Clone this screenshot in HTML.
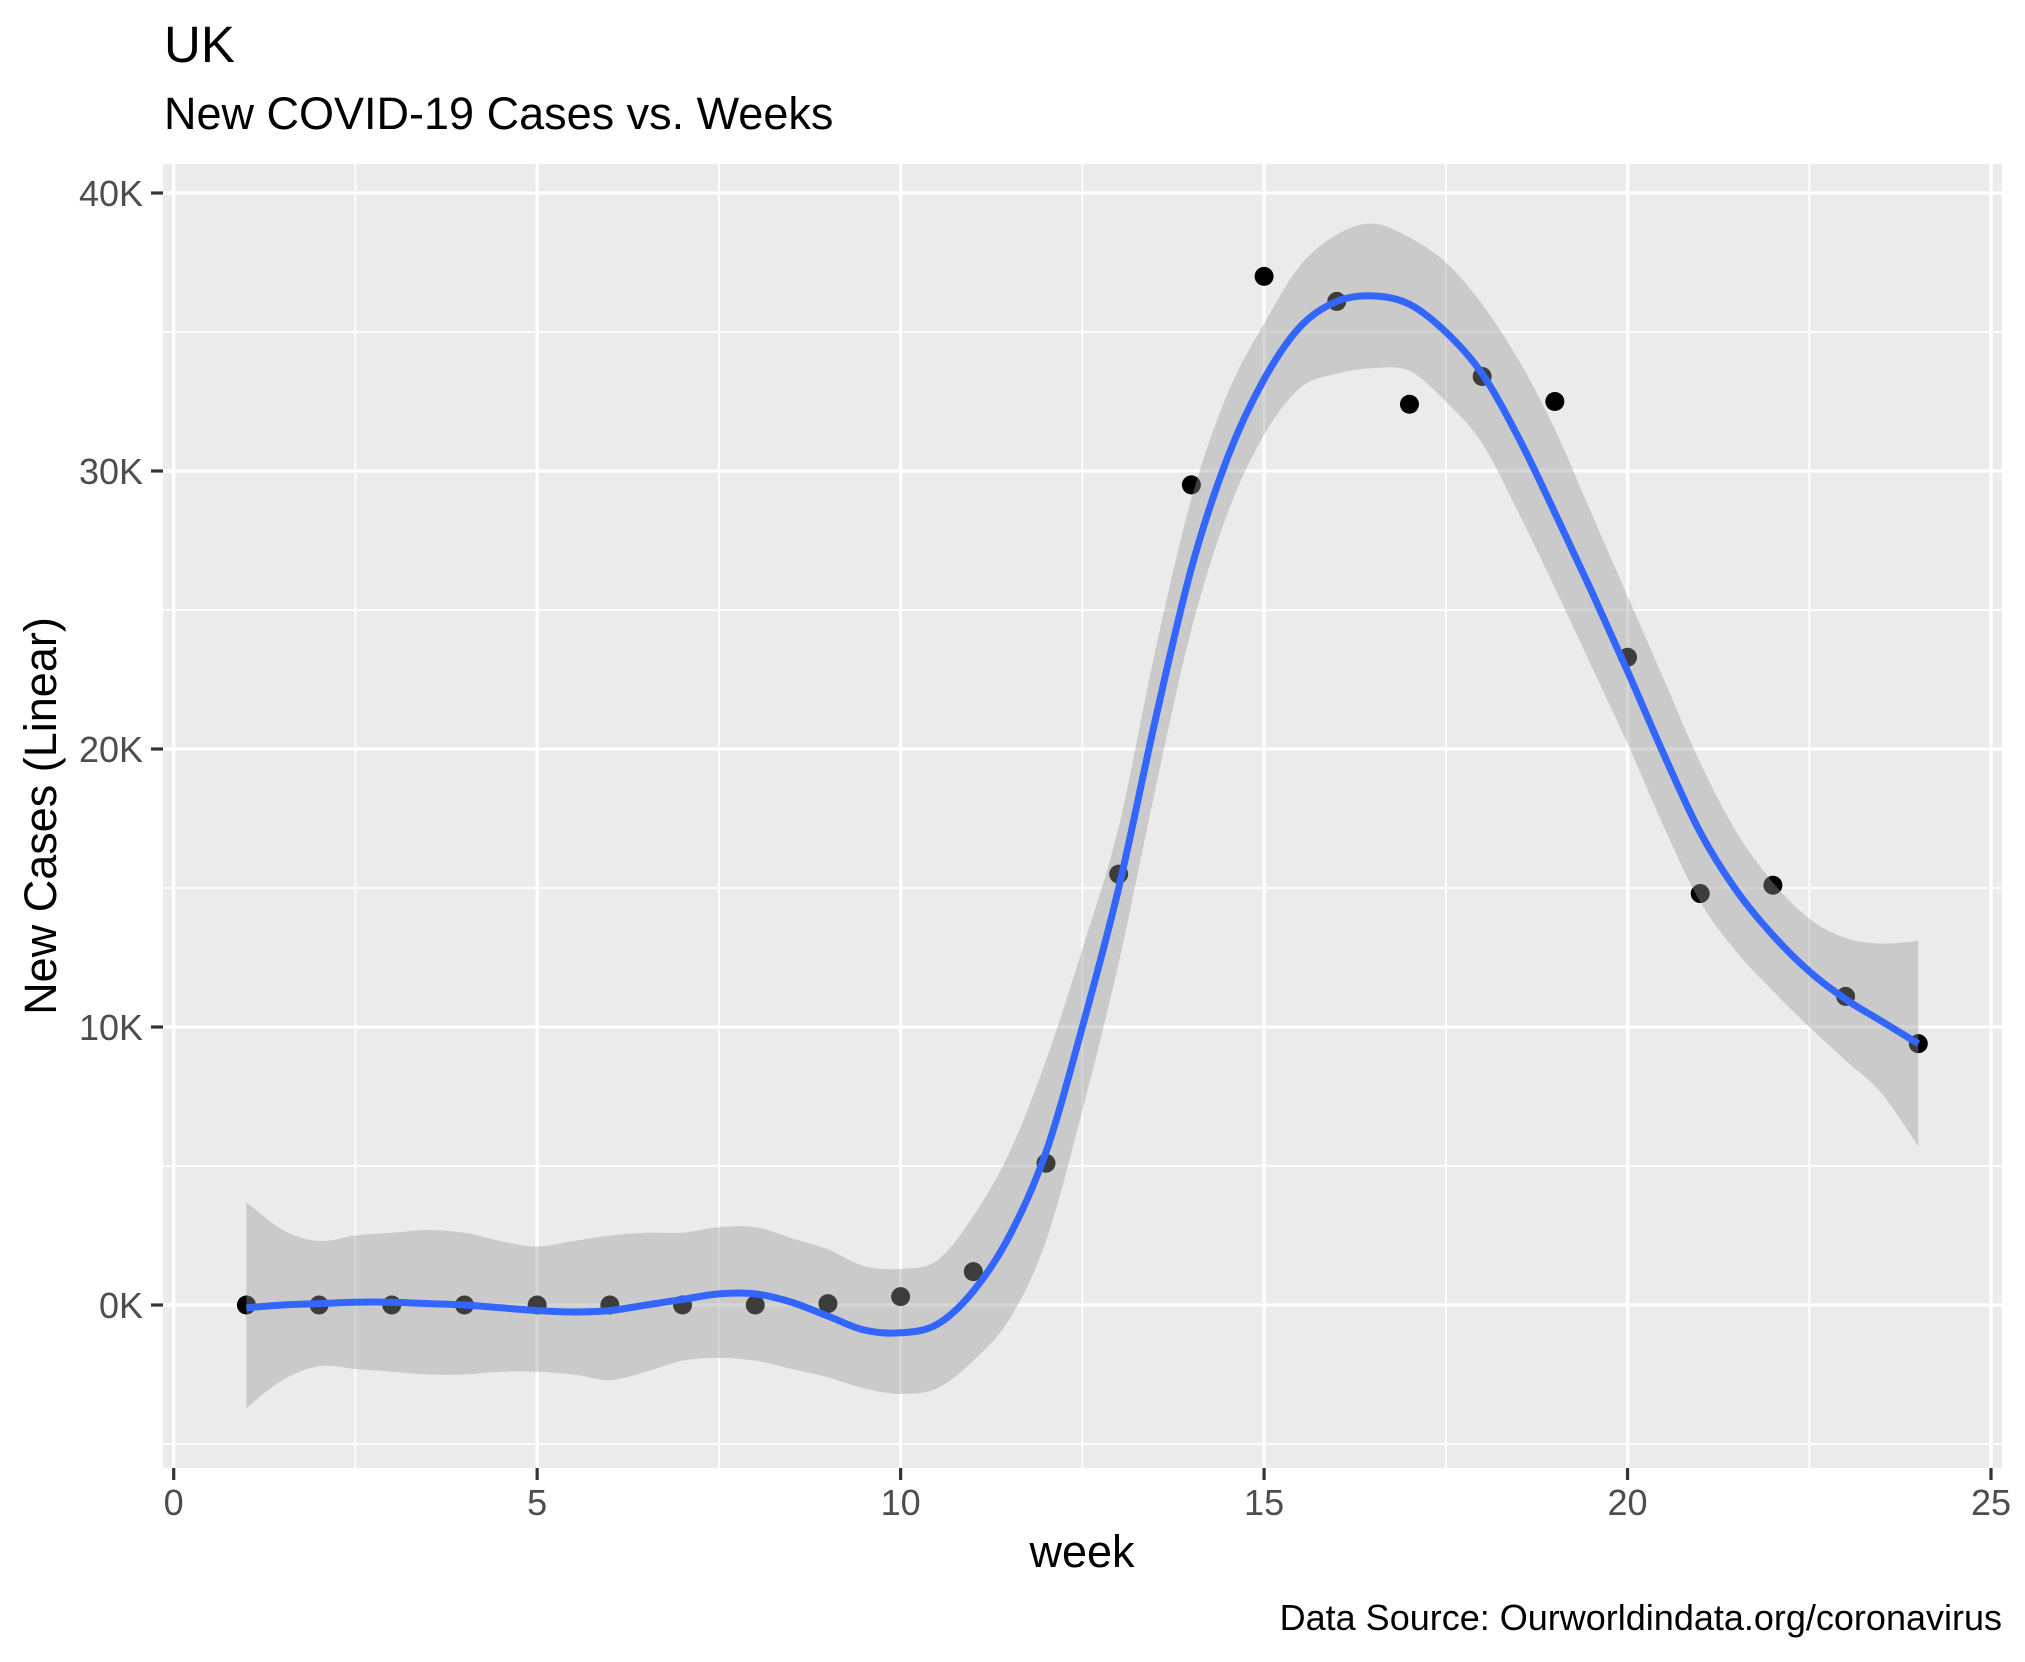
<!DOCTYPE html>
<html><head><meta charset="utf-8"><style>
html,body{margin:0;padding:0;background:#fff}
svg{display:block;font-family:"Liberation Sans",Arial,sans-serif}
</style></head><body>
<svg id="chart" width="2025" height="1662" viewBox="0 0 2025 1662" xmlns="http://www.w3.org/2000/svg">
<rect x="0" y="0" width="2025" height="1662" fill="#fff"/>
<text x="164" y="62" font-size="51" fill="#000">UK</text>
<text x="164" y="129" font-size="45" fill="#000">New COVID-19 Cases vs. Weeks</text>
<rect x="163" y="164" width="1839" height="1304" fill="#EBEBEB"/>
<g id="grid"></g>
<g id="points"></g>
<path id="band" fill="#999999" fill-opacity="0.4"/>
<path id="smooth" fill="none" stroke="#3366FF" stroke-width="7" stroke-linejoin="round"/>
<g id="axes"></g>
<text x="1082" y="1567" font-size="45" text-anchor="middle" fill="#000">week</text>
<text transform="translate(56,816) rotate(-90)" font-size="45" text-anchor="middle" fill="#000">New Cases (Linear)</text>
<text x="2002" y="1630" font-size="36" text-anchor="end" fill="#000">Data Source: Ourworldindata.org/coronavirus</text>
</svg>
<script>
const weeks = [1,2,3,4,5,6,7,8,9,10,11,12,13,14,15,16,17,18,19,20,21,22,23,24];
const cases = [0,0,0,0,0,0,0,0,0.05,0.3,1.2,5.1,15.5,29.5,37.0,36.1,32.4,33.4,32.5,23.3,14.8,15.1,11.1,9.4];
const smoothStart = 1;
const smoothStep = 0.5;
const smoothY = [-0.1,0.0,0.05,0.1,0.1,0.05,0.0,-0.1,-0.2,-0.25,-0.2,0.0,0.2,0.4,0.4,0.1,-0.4,-0.9,-1.0,-0.7,0.5,2.5,5.5,10,15,21,26.5,30.5,33.3,35.2,36.1,36.3,36.0,35.0,33.5,31.2,28.5,25.7,22.8,19.8,17.0,14.9,13.3,12.0,11.0,10.2,9.4];
const bandHi = [3.7,2.7,2.3,2.5,2.6,2.7,2.6,2.3,2.1,2.3,2.5,2.6,2.6,2.8,2.8,2.4,2.0,1.4,1.3,1.6,3.2,5.5,8.8,12.8,17.2,23.5,29.0,32.8,35.3,37.4,38.5,38.9,38.4,37.5,36.0,34.0,31.5,28.5,25.5,22.5,19.5,17.0,15.2,13.9,13.2,13.0,13.1];
const bandLo = [-3.7,-2.7,-2.2,-2.3,-2.4,-2.5,-2.5,-2.4,-2.4,-2.5,-2.7,-2.4,-2.0,-1.9,-2.0,-2.3,-2.6,-3.0,-3.2,-3.0,-2.0,-0.5,2.3,7.0,12.3,18.5,24.3,28.5,31.3,33.0,33.5,33.7,33.6,32.5,31.0,28.5,25.8,23.0,20.2,17.2,14.5,12.7,11.3,10.0,8.8,7.6,5.7];
const xTicks = [0,5,10,15,20,25];
const xMinor = [2.5,7.5,12.5,17.5,22.5];
const yTicks = [0,10,20,30,40];
const yTickLabels = ["0K","10K","20K","30K","40K"];
const yMinor = [-5,5,15,25,35];

const NS = "http://www.w3.org/2000/svg";
const X = w => 173.7 + (w - 0) * (1991 - 173.7) / 25;
const Y = k => 1305 - k * 27.8;
const PL = 163, PR = 2002, PT = 164, PB = 1468;

function mk(tag, attrs, parent) {
  const e = document.createElementNS(NS, tag);
  for (const k in attrs) e.setAttribute(k, attrs[k]);
  parent.appendChild(e);
  return e;
}
const grid = document.getElementById('grid');
const axes = document.getElementById('axes');
xMinor.forEach(v => {
  const l = mk('line', {x1: X(v), x2: X(v), y1: PT, y2: PB, stroke: '#fff', 'stroke-width': 1.7}, grid);
  
  
});
yMinor.forEach(v => {
  const l = mk('line', {x1: PL, x2: PR, y1: Y(v), y2: Y(v), stroke: '#fff', 'stroke-width': 1.7}, grid);
  
  
});
xTicks.forEach(v => {
  const l = mk('line', {x1: X(v), x2: X(v), y1: PT, y2: PB, stroke: '#fff', 'stroke-width': 3.2}, grid);
  
  
  const t = mk('line', {x1: X(v), x2: X(v), y1: PB, y2: PB + 12, stroke: '#333', 'stroke-width': 3.2}, axes);
  
  
  const tx = mk('text', {x: X(v), y: 1515, 'font-size': 36, 'text-anchor': 'middle', fill: '#4D4D4D'}, axes);
  tx.textContent = String(v);
  
  
});
yTicks.forEach((v, i) => {
  const l = mk('line', {x1: PL, x2: PR, y1: Y(v), y2: Y(v), stroke: '#fff', 'stroke-width': 3.2}, grid);
  
  
  const t = mk('line', {x1: PL - 12, x2: PL, y1: Y(v), y2: Y(v), stroke: '#333', 'stroke-width': 3.2}, axes);
  
  
  const tx = mk('text', {x: 143, y: Y(v) + 13, 'font-size': 36, 'text-anchor': 'end', fill: '#4D4D4D'}, axes);
  tx.textContent = yTickLabels[i];
  
  
});
const pts = document.getElementById('points');
weeks.forEach((w, i) => {
  const c = mk('circle', {cx: X(w), cy: Y(cases[i]), r: 9.5, fill: '#000'}, pts);
  
  
});
function curve(xs, ys) {
  let d = '';
  for (let i = 0; i < xs.length; i++) {
    if (i === 0) { d += 'M' + xs[0] + ',' + ys[0]; continue; }
    const x0 = xs[Math.max(i - 2, 0)], y0 = ys[Math.max(i - 2, 0)];
    const x1 = xs[i - 1], y1 = ys[i - 1], x2 = xs[i], y2 = ys[i];
    const x3 = xs[Math.min(i + 1, xs.length - 1)], y3 = ys[Math.min(i + 1, xs.length - 1)];
    d += 'C' + (x1 + (x2 - x0) / 6) + ',' + (y1 + (y2 - y0) / 6) + ' ' + (x2 - (x3 - x1) / 6) + ',' + (y2 - (y3 - y1) / 6) + ' ' + x2 + ',' + y2;
  }
  return d;
}
const sx = smoothY.map((_, i) => X(smoothStart + i * smoothStep));
document.getElementById('smooth').setAttribute('d', curve(sx, smoothY.map(Y)));
const hiPath = curve(sx, bandHi.map(Y));
const rx = sx.slice().reverse();
const loPath = curve(rx, bandLo.slice().reverse().map(Y)).replace(/^M/, 'L');
document.getElementById('band').setAttribute('d', hiPath + loPath + 'Z');
</script>
</body></html>
